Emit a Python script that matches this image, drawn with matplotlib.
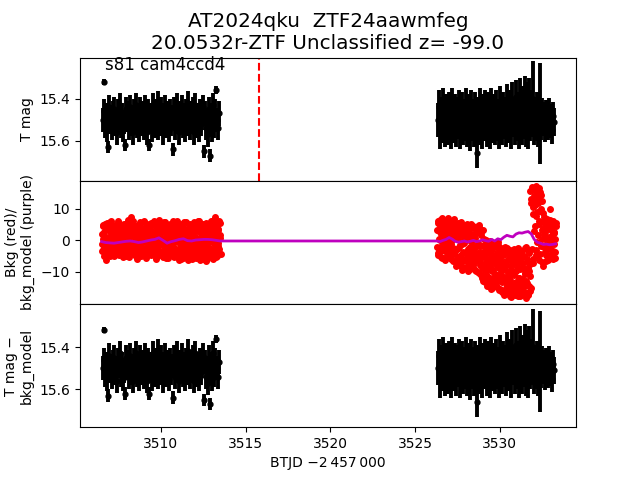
import numpy as np
import matplotlib
matplotlib.use("Agg")
import matplotlib.pyplot as plt

# ---------------- data ----------------
seg1_range = (3506.55, 3513.45)
seg2_range = (3526.35, 3533.2)

mag1 = [15.50, 15.32, 15.46, 15.53, 15.48, 15.55, 15.63, 15.44, 15.51, 15.49,
        15.54, 15.47, 15.45, 15.52, 15.50, 15.56, 15.46, 15.49, 15.43, 15.53,
        15.48, 15.55, 15.51, 15.62, 15.45, 15.50, 15.47, 15.54, 15.44, 15.52,
        15.49, 15.56, 15.46, 15.51, 15.43, 15.53, 15.48, 15.55, 15.45, 15.50,
        15.52, 15.47, 15.54, 15.44, 15.49, 15.56, 15.46, 15.62, 15.51, 15.48,
        15.55, 15.43, 15.50, 15.53, 15.46, 15.49, 15.42, 15.54, 15.47, 15.52,
        15.45, 15.51, 15.56, 15.48, 15.44, 15.53, 15.50, 15.47, 15.55, 15.46,
        15.52, 15.49, 15.64, 15.45, 15.54, 15.48, 15.43, 15.51, 15.56, 15.47,
        15.50, 15.44, 15.53, 15.48, 15.55, 15.46, 15.52, 15.42, 15.49, 15.54,
        15.47, 15.51, 15.45, 15.56, 15.43, 15.50, 15.53, 15.48, 15.55, 15.46,
        15.52, 15.49, 15.44, 15.65, 15.47, 15.54, 15.50, 15.57, 15.45, 15.67,
        15.51, 15.48, 15.55, 15.43, 15.53, 15.46, 15.36, 15.50, 15.54, 15.47]
err1_base = 0.058
err1_special = {1: 0.015, 6: 0.03, 23: 0.03, 47: 0.03, 72: 0.03, 103: 0.03,
                109: 0.03, 116: 0.02}

mag2 = [15.50, 15.44, 15.56, 15.47, 15.53, 15.43, 15.51, 15.55, 15.46, 15.49,
        15.54, 15.45, 15.52, 15.48, 15.56, 15.43, 15.50, 15.53, 15.46, 15.55,
        15.47, 15.51, 15.44, 15.56, 15.49, 15.45, 15.54, 15.48, 15.52, 15.43,
        15.55, 15.46, 15.50, 15.57, 15.44, 15.52, 15.48, 15.55, 15.45, 15.51,
        15.66, 15.47, 15.54, 15.43, 15.50, 15.56, 15.46, 15.52, 15.44, 15.49,
        15.55, 15.45, 15.51, 15.47, 15.56, 15.43, 15.50, 15.53, 15.46, 15.54,
        15.44, 15.52, 15.48, 15.56, 15.42, 15.50, 15.54, 15.45, 15.51, 15.47,
        15.55, 15.41, 15.49, 15.53, 15.44, 15.56, 15.40, 15.50, 15.47, 15.54,
        15.39, 15.52, 15.45, 15.56, 15.38, 15.49, 15.54, 15.42, 15.51, 15.37,
        15.55, 15.40, 15.48, 15.56, 15.38, 15.52, 15.44, 15.50, 15.40, 15.54,
        15.47, 15.52, 15.45, 15.55, 15.49, 15.47, 15.53, 15.46, 15.51, 15.48,
        15.54, 15.47, 15.50, 15.53, 15.46, 15.52, 15.49, 15.55, 15.48, 15.51]
err2_base = 0.08
err2_tail_start = 106
err2_tail = 0.065
err2_special = {40: 0.07, 98: 0.18, 105: 0.24}

bkg1_range = (3506.5, 3513.5)
bkg2_range = (3526.3, 3533.3)
bkg1 = [2.1, -3.4, 4.6, 0.3, -1.8, 5.2, -4.2, -6.3, 3.5, -0.9,
        -2.7, 4.0, 0.8, -4.6, 2.9, 6.3, -1.2, 1.9, -3.6, 3.8,
        0.1, -2.2, 5.0, -4.0, 2.4, -0.5, 4.3, -3.1, 1.1, 5.6,
        -1.5, 3.0, -4.4, 0.6, 4.9, -2.6, 2.2, -3.8, 5.3, -0.2,
        1.7, -4.9, 3.6, -1.0, 6.5, -2.9, 0.9, 4.1, -3.5, 2.6,
        7.4, 5.4, -4.1, 1.3, 3.2, -2.0, 4.7, -5.0, 0.4, 2.8,
        -3.2, 4.4, 1.0, -1.7, 5.8, -4.3, 2.3, -0.4, 3.9, -2.5,
        0.7, 6.1, -3.7, 1.8, -5.1, 4.2, -1.1, 2.7, -2.8, 5.1,
        -0.3, 3.4, -4.7, 1.5, 4.8, -2.3, 0.2, 5.5, -3.9, 2.0,
        -1.4, 4.5, -5.3, 0.5, 3.1, -2.1, 6.4, -3.3, 1.2, -0.6,
        3.7, -4.5, 2.5, -1.6, 5.7, -3.0, 0.0, 4.3, -5.6, 1.6,
        -2.4, 3.3, -0.8, 5.0, -4.8, 2.1, -1.9, 4.6, -3.4, 0.6,
        6.0, -5.4, 1.4, -2.7, 3.8, -0.1, 4.9, -4.2, 2.2, -6.2,
        0.9, 5.3, -3.6, 1.9, -1.3, 4.0, -5.7, 2.8, -0.5, 3.5,
        -4.6, 1.1, 5.9, -2.2, 0.3, -5.2, 4.4, -1.0, 2.6, -3.8,
        4.8, -6.0, 1.7, -0.9, 3.6, -4.0, 5.2, -2.6, 0.4, -5.5,
        2.9, -1.5, 4.1, -3.2, 6.2, -4.9, 1.0, -0.3, 3.0, -5.9,
        5.1, -2.0, 0.8, -4.4, 2.4, -6.5, 4.5, -1.2, 1.5, -3.5,
        3.9, -5.0, 0.2, 5.6, -2.9, 1.3, -4.7, 3.2, -0.7, 6.6,
        -3.0, 7.5, -5.3, 4.2, 0.6, -1.8, 3.4, -4.1, 5.5, 1.8]
bkg1b = [-1.1, 4.9, -3.0, 2.6, -5.0, 0.9, 3.7, -2.1, 5.5, -4.3,
         1.2, -0.6, 3.3, -4.9, 5.9, -1.7, 2.0, -3.9, 4.4, 0.2,
         -5.1, 2.8, -1.3, 4.7, -3.2, 1.6, -0.1, 6.0, -4.5, 3.1,
         0.6, -3.6, 4.2, -2.4, 1.0, -5.4, 3.5, 0.0, -1.9, 5.1,
         -4.0, 2.3, -0.4, 5.6, -2.7, 3.9, -5.2, 1.5, 4.6, -1.2,
         3.0, -3.3, 6.2, -0.8, 1.9, -4.6, 4.0, -2.0, 0.7, -5.8,
         5.0, -1.4, 2.5, -3.8, 4.3, 0.3, -4.9, 3.2, -2.3, 1.3,
         -3.5, 5.7, -0.2, 2.9, -5.5, 1.1, 4.8, -2.8, 0.5, -4.2,
         3.6, -0.9, 5.4, -3.1, 2.2, -4.4, 0.8, 6.1, -1.6, 3.0,
         -5.9, 1.8, -2.5, 4.5, -0.3, 3.3, -4.7, 2.4, 5.2, -1.0,
         0.4, -3.7, 4.1, -5.3, 2.7, -1.1, 5.8, -4.0, 1.0, -2.2,
         4.9, -5.7, 0.1, 3.4, -2.9, 5.3, -0.6, 1.7, -4.5, 2.6,
         -1.8, 4.2, -5.0, 0.9, 3.1, -3.4, 6.3, -0.4, 2.0, -4.8,
         3.8, -2.0, 1.4, -5.9, 4.6, -1.5, 2.5, -3.0, 5.7, -0.8,
         1.6, -4.1, 3.3, 0.0, -6.1, 2.9, -2.4, 5.1, -3.6, 0.7,
         -1.9, 4.5, -4.8, 2.2, -0.2, 5.9, -5.1, 1.2, 3.7, -2.7,
         -4.5, 0.5, 6.0, -2.1, 3.5, -6.3, 2.1, -1.3, 4.9, -3.9,
         0.3, -5.4, 3.8, 1.6, -3.0, 5.4, -0.9, -5.8, 2.7, 4.3,
         -2.3, 1.0, -4.6, 6.2, -0.5, 3.0, -6.0, 2.4, 4.7, -1.6,
         5.0, -3.2, 1.9, -5.0, 3.6, -0.7, 6.0, -2.8, 0.9, -4.4]
bkg2 = [3.2, -4.1, 6.1, 0.5, -2.6, 4.8, -5.2, 1.9, 7.2, -1.4,
        2.7, -5.6, 5.0, -0.3, 3.9, -3.5, 6.6, 0.9, -4.6, 4.3,
        -1.8, 5.7, -3.0, 2.2, -5.9, 4.0, 0.0, -2.4, 6.9, -4.3,
        1.5, -6.4, 5.3, -2.9, 3.1, -7.5, 0.4, 4.6, -5.0, -1.6,
        5.8, -8.0, 2.0, -3.8, 4.1, -6.1, -0.7, 3.5, -8.6, 1.2,
        -4.4, 4.8, -7.0, 0.1, 2.7, -9.1, -2.1, 5.2, -5.6, 1.8,
        -8.3, 3.9, -3.3, -6.7, 0.8, -9.8, 2.4, -1.9, -5.1, 4.4,
        -10.4, 5.0, -3.6, -7.8, 1.6, -12.0, -5.3, 3.2, -9.2, -1.4,
        -13.1, -4.0, -7.4, 0.2, -11.3, -2.6, -8.9, -14.0, -0.9, -6.2,
        -12.4, -3.1, -9.7, -15.0, -1.8, -7.0, -13.6, -4.8, -10.6, -2.2,
        -14.8, -8.1, -0.5, -12.9, -5.6, -15.5, -3.4, -9.9, -6.8, -13.3,
        -2.9, -16.2, -8.6, -11.7, -4.1, -17.0, -6.5, -14.2, -2.5, -10.3,
        -15.8, -5.2, -12.5, -17.6, -3.3, -9.4, -16.7, -7.1, -13.8, -2.8,
        -11.0, -17.3, -4.6, -14.7, -8.3, -16.0, -2.4, -12.1, -6.0, -17.8,
        -9.0, -3.7, -15.1, -7.6, -13.0, -17.1, -4.9, -10.8, -16.4, -2.1,
        -12.8, -6.9, -17.5, -3.1, -14.4, -9.6, 15.8, -16.2, 12.0, -2.7,
        16.9, 8.4, -7.2, 14.1, 4.7, 11.3, -4.5, 17.2, 9.0, 1.8,
        13.5, -6.3, 6.2, 15.4, -1.9, 10.1, 3.3, 12.6, -8.0, 7.5,
        5.9, -3.8, 2.6, -6.6, 6.8, -0.9, 4.1, -5.3, 1.2, 10.0,
        -2.4, 5.1, -4.7, 3.0, -6.0, 6.3, -1.1, 2.2, -3.6, 4.5]
bkg2b = [-2.0, 5.4, -4.8, 2.9, 0.2, 6.4, -3.3, 4.1, -5.5, 1.0,
         5.9, -1.5, 3.0, -6.2, 1.7, -2.8, 4.6, -4.0, 7.0, -0.4,
         2.3, -5.1, 4.9, -1.0, 6.2, -3.7, 1.4, -6.5, 3.6, 0.6,
         -3.4, 4.2, -8.1, 0.9, -5.3, 5.6, -2.2, -7.0, 2.1, -4.6,
         3.3, -9.4, -1.1, 4.5, -6.6, 0.7, -3.9, -8.8, 2.6, -5.8,
         5.1, -2.7, -9.6, 1.4, -6.0, 3.8, -4.0, -8.2, 0.0, -1.5,
         4.7, -7.3, -2.5, 1.9, -9.5, -4.1, 3.1, -6.3, -0.9, -10.2,
         4.2, -6.9, -1.9, -11.1, 2.6, -8.5, -4.3, -13.0, 0.5, -7.6,
         -3.0, -10.2, -5.8, -14.4, -1.2, -8.4, -12.0, -4.4, -0.3, -11.8,
         -7.9, -15.3, -2.9, -9.3, -5.0, -13.9, -1.1, -11.4, -6.6, -14.6,
         -4.0, -12.2, -1.6, -8.8, -15.8, -5.9, -10.9, -2.3, -16.3, -7.4,
         -12.7, -4.8, -17.4, -9.1, -2.2, -15.0, -7.8, -13.5, -3.6, -16.8,
         -6.2, -11.6, -3.0, -18.0, -8.0, -14.9, -4.3, -10.1, -16.1, -5.5,
         -15.4, -3.9, -9.8, -13.2, -7.0, -17.6, -2.6, -11.9, -5.0, -14.0,
         -17.0, -6.7, -12.3, -3.5, -16.6, -8.7, -14.5, -2.3, -10.4, -18.2,
         -5.8, -13.6, -8.9, -16.9, -4.0, -11.2, -7.4, 13.0, -15.0, 16.2,
         10.5, -5.9, 16.0, 3.0, 12.7, -3.0, 7.8, 15.0, -0.5, 11.8,
         5.1, 16.6, -4.2, 9.4, 14.5, 0.4, -7.0, 8.6, 3.9, -2.0,
         2.0, 6.0, -4.5, 4.3, -1.8, 0.7, -6.2, 5.4, -2.9, 3.5,
         6.5, -5.1, 1.4, -0.4, 4.9, -3.3, 2.8, -5.7, 0.3, 5.6]

bkgm1 = [-0.4, -0.7, -0.8, -0.9, -0.7, -0.5, -0.3, -0.2, -0.4, -0.7,
         -0.5, -0.2, 0.1, 0.3, 0.8, 0.0, -0.9, -0.4, -0.1, 0.3,
         0.5, -0.1, -0.2, 0.1, 0.2, 0.3, 0.3, 0.2, 0.0, -0.2]
bkgm2 = [-0.2, -0.4, 0.0, 0.3, 0.9, 0.4, -0.3, -0.6, -0.4, -0.2,
         -0.5, -0.3, 0.0, -0.4, -0.2, 0.2, -0.1, -0.3, 0.3, -0.2,
         0.5, 0.2, 1.0, 1.6, 1.3, 1.1, 2.0, 2.4, 2.3, 2.6,
         2.8, 2.1, 0.3, -0.6, -0.9, -1.3, -1.2, -1.4, -1.3, -1.1]

t_flare = 3515.8
title = "AT2024qku  ZTF24aawmfeg\n20.0532r-ZTF Unclassified z= -99.0"
label_text = "s81 cam4ccd4"

# ---------------- derived arrays ----------------
t1 = np.linspace(*seg1_range, len(mag1))
t2 = np.linspace(*seg2_range, len(mag2))
e1 = np.full(len(mag1), err1_base)
for k, v in err1_special.items():
    e1[k] = v
e2 = np.full(len(mag2), err2_base)
e2[err2_tail_start:] = err2_tail
for k, v in err2_special.items():
    e2[k] = v
tb1 = np.linspace(*bkg1_range, len(bkg1))
tb2 = np.linspace(*bkg2_range, len(bkg2))
step1 = tb1[1] - tb1[0]
step2 = tb2[1] - tb2[0]
tb1b = tb1 + step1 / 2
tb2b = tb2 + step2 / 2
tm1 = np.linspace(*bkg1_range, len(bkgm1))
tm2 = np.linspace(*bkg2_range, len(bkgm2))

t_all = np.concatenate([t1, t2])
mag_all = np.concatenate([mag1, mag2])
err_all = np.concatenate([e1, e2])

t_bkg = np.concatenate([tb1, tb1b, tb2, tb2b])
v_bkg = np.concatenate([bkg1, bkg1b, bkg2, bkg2b])

# ---------------- plot ----------------
fig, axes = plt.subplots(3, 1, sharex=True, figsize=(6.4, 4.8), dpi=100)
fig.subplots_adjust(hspace=0, left=0.125, right=0.9, top=0.88, bottom=0.11)
ax1, ax2, ax3 = axes

ebkw = dict(fmt='k.', ms=7, elinewidth=2.8)
ax1.errorbar(t_all, mag_all, yerr=err_all, **ebkw)
ax1.axvline(t_flare, color='r', ls='--')
ax1.set_ylim(15.79, 15.205)
ax1.set_yticks([15.4, 15.6])
ax1.set_ylabel("T mag")
ax1.text(0.05, 0.9, label_text, transform=ax1.transAxes, fontsize=12)
ax1.set_title(title, fontsize=14.4)

ax2.plot(t_bkg, v_bkg, 'r.', ms=8)
ax2.plot(np.concatenate([tm1, tm2]), np.concatenate([bkgm1, bkgm2]), 'm-', lw=2)
ax2.set_ylim(-20.2, 18.9)
ax2.set_yticks([-10, 0, 10])
ax2.set_ylabel("Bkg (red)/\nbkg_model (purple)")

ax3.errorbar(t_all, mag_all, yerr=err_all, **ebkw)
ax3.set_ylim(15.78, 15.195)
ax3.set_yticks([15.4, 15.6])
ax3.set_ylabel("T mag \u2212\nbkg_model")
ax3.set_xlim(3505.22, 3534.51)
ax3.set_xticks([3510, 3515, 3520, 3525, 3530])
ax3.set_xlabel("BTJD \u22122\u2009457\u2009000")

fig.savefig("out.png", dpi=100)
